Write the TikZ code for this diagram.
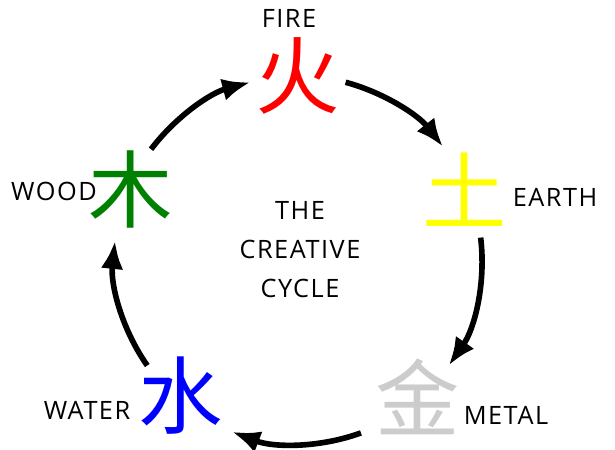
\documentclass[tikz,border=0pt]{standalone}
\usepackage{fontspec}
\setmainfont{Open Sans}
\newfontfamily\cjkfont{Noto Sans CJK SC}
\usetikzlibrary{arrows.meta}
\definecolor{firered}{RGB}{255,0,0}
\definecolor{earthyellow}{RGB}{255,255,0}
\definecolor{metalgrey}{RGB}{204,204,204}
\definecolor{waterblue}{RGB}{0,0,255}
\definecolor{woodgreen}{RGB}{0,128,0}

\begin{document}
\begin{tikzpicture}[
    glyph/.style={font=\cjkfont\fontsize{60}{60}\selectfont, inner sep=0pt},
    elname/.style={font=\fontsize{18}{27.7}\selectfont\addfontfeatures{LetterSpace=6},
                   inner sep=0pt},
    cyclearrow/.style={-{Latex[length=20pt, width=16pt]}, line width=4pt},
]
\useasboundingbox (-7.45,-4.75) rectangle (7.925,6.5);
\coordinate (ctr) at (0,0);

% ─── Five elements ───────────────────────────────────────────────
\node[glyph, text=firered]     (fire)  at (0,4.6)        {火};
\node[glyph, text=earthyellow] (earth) at (4.175,1.75)   {土};
\node[glyph, text=metalgrey]   (metal) at (3.0,-3.425)   {金};
\node[glyph, text=waterblue]   (water) at (-2.925,-3.4)  {水};
\node[glyph, text=woodgreen]   (wood)  at (-4.175,1.775) {木};

% ─── Names ───────────────────────────────────────────────────────
\node[elname] (firelbl)  at (-0.225,6.05)  {FIRE};
\node[elname] (earthlbl) at (6.425,1.575)  {EARTH};
\node[elname] (metallbl) at (5.2,-3.875)   {METAL};
\node[elname] (waterlbl) at (-5.275,-3.75) {WATER};
\node[elname] (woodlbl)  at (-6.1,1.725)   {WOOD};

\node[elname, align=center] (title) at (0.05,0.25) {THE\\CREATIVE\\CYCLE};

% ─── Cycle arrows ────────────────────────────────────────────────
\foreach \a/\b in {75/38, 7/-35, -70/-111, 215/174, 143/105}
  \draw[cyclearrow] ([shift={(\a:4.6)}]ctr) arc[start angle=\a, end angle=\b, radius=4.6];

\end{tikzpicture}
\end{document}
